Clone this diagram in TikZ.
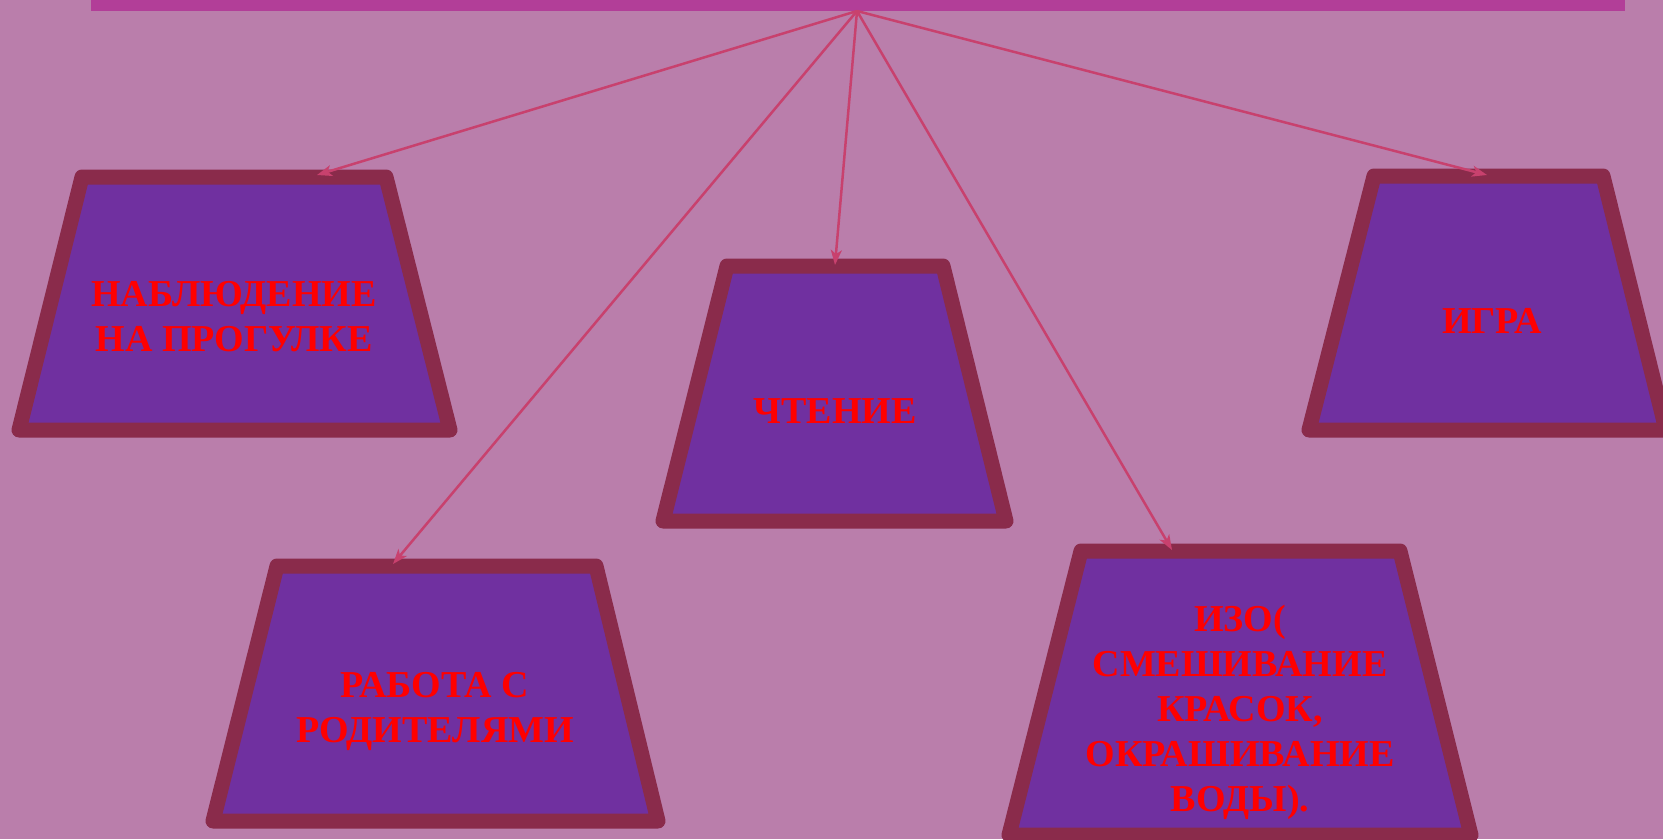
\documentclass[tikz,border=0pt]{standalone}
\usepackage{fontspec}
\setmainfont{Liberation Serif}
\usetikzlibrary{arrows.meta}
\definecolor{bgc}{RGB}{186,126,171}
\definecolor{barc}{RGB}{178,62,152}
\definecolor{boxfill}{RGB}{112,48,160}
\definecolor{boxline}{RGB}{138,43,75}
\definecolor{arrc}{RGB}{200,65,110}
\tikzset{
  trap/.style={fill=boxfill, draw=boxline, line width=15pt, line join=round},
  lbl/.style={text=red, align=center, font=\fontsize{38}{45}\selectfont\bfseries, inner sep=0pt},
  conn/.style={draw=arrc, line width=2.5pt, -{Stealth[length=15pt,width=11pt,inset=4pt]}}
}
\begin{document}
\begin{tikzpicture}[x=1pt,y=-1pt]
\useasboundingbox (0,0) rectangle (1663,839);
\fill[bgc] (0,0) rectangle (1663,839);
\fill[barc] (91,0) rectangle (1625,11);
\coordinate (root) at (857,11);
% boxes
\draw[trap] (82,177) -- (386,177) -- (450,430) -- (19,430) -- cycle;
\draw[trap] (1374,176) -- (1603,176) -- (1666,430) -- (1309,430) -- cycle;
\draw[trap] (727,266) -- (943,266) -- (1006,521) -- (663,521) -- cycle;
\draw[trap] (277,566) -- (596,566) -- (658,821) -- (213,821) -- cycle;
\draw[trap] (1081,551) -- (1400,551) -- (1471,835) -- (1009,835) -- cycle;
% arrow targets
\coordinate (t1) at (317,175);
\coordinate (t2) at (1487,175);
\coordinate (t3) at (835,265);
\coordinate (t4) at (393,564);
\coordinate (t5) at (1172,550);
% labels
\node[lbl] (n1) at (234,317) {НАБЛЮДЕНИЕ\\НА ПРОГУЛКЕ};
\node[lbl] (n2) at (1492,321) {ИГРА};
\node[lbl] (n3) at (835,411) {ЧТЕНИЕ};
\node[lbl] (n4) at (435,711) {РАБОТА С\\РОДИТЕЛЯМИ};
\node[lbl] (n5) at (1240,712) {ИЗО(\\СМЕШИВАНИЕ\\КРАСОК,\\ОКРАШИВАНИЕ\\ВОДЫ).};
% connectors
\draw[conn] (root) -- (t1);
\draw[conn] (root) -- (t2);
\draw[conn] (root) -- (t3);
\draw[conn] (root) -- (t4);
\draw[conn] (root) -- (t5);
\end{tikzpicture}
\end{document}
